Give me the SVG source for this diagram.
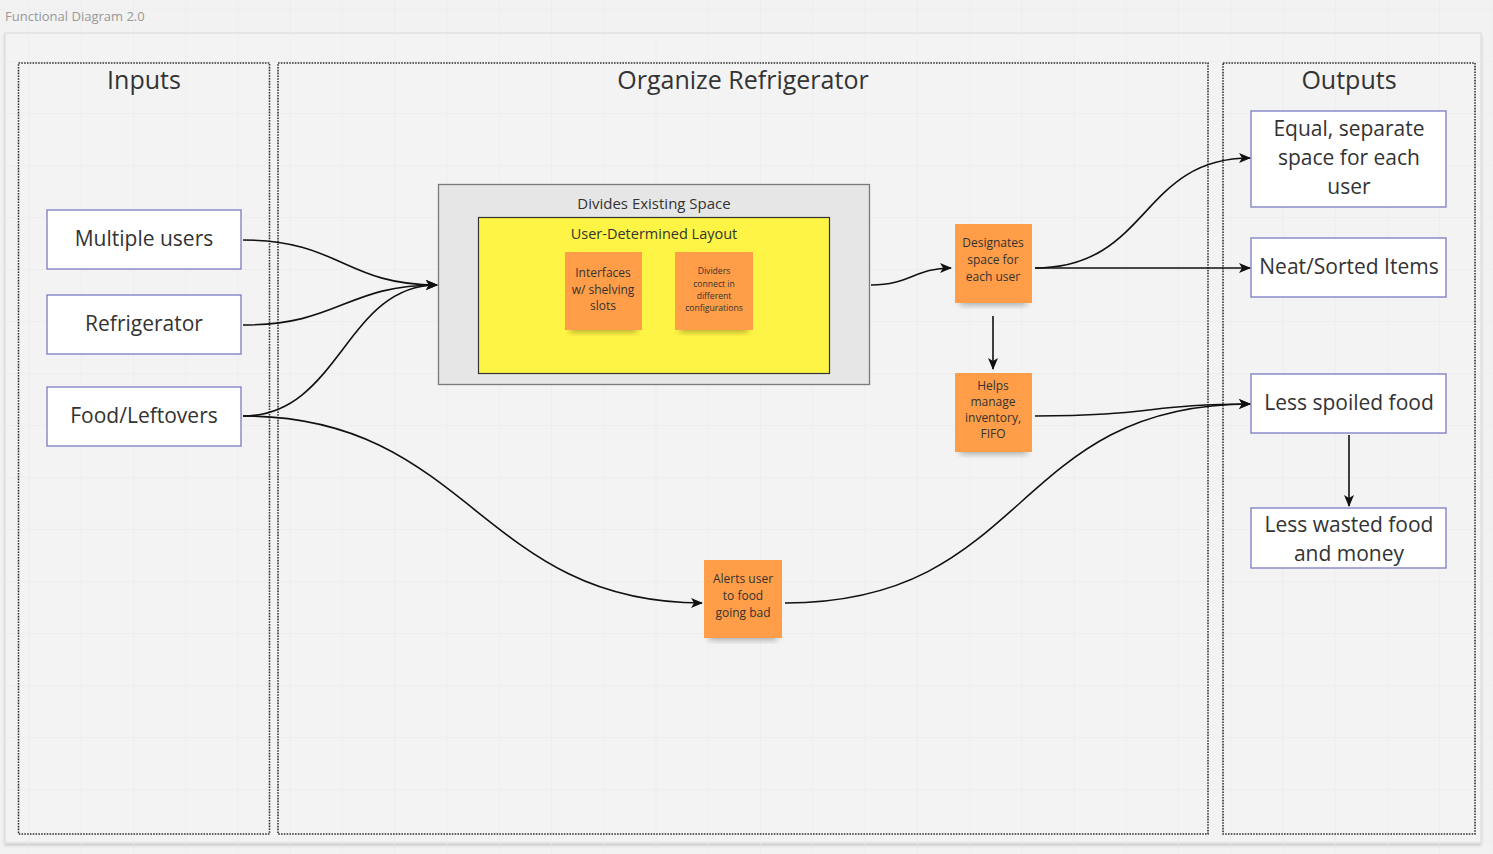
<svg xmlns="http://www.w3.org/2000/svg" width="1493" height="854" viewBox="0 0 1493 854">
<defs>
<pattern id="minor" x="28.5" y="9" width="52.25" height="52" patternUnits="userSpaceOnUse">
<path d="M0 0V52M0 0H52.25" stroke="#e9e9e9" stroke-width="1.1" fill="none"/>
</pattern>
<marker id="ah" viewBox="0 0 12 10" refX="11" refY="5" markerWidth="12" markerHeight="10" markerUnits="userSpaceOnUse" orient="auto">
<path d="M0 0L12 5L0 10L3 5Z" fill="#111"/>
</marker>
<filter id="sh" x="-20%" y="-20%" width="140%" height="160%">
<feGaussianBlur stdDeviation="3"/>
</filter>
<filter id="fsh" x="-5%" y="-5%" width="110%" height="110%">
<feDropShadow dx="0" dy="2" stdDeviation="1.5" flood-color="#000" flood-opacity="0.18"/>
</filter>
</defs>
<style>
text{font-family:"Open Sans","Noto Sans","DejaVu Sans",sans-serif;fill:#333;text-anchor:middle}
.lane{fill:none;stroke:#333;stroke-width:1.6;stroke-dasharray:1.6 1.2}
.lt{font-size:25px}
.box{fill:#fff;stroke:#7c7cc4;stroke-width:1.3}
.bt{font-size:21px}
.st{fill:#ff9d48}
.sshadow{fill:#000;opacity:0.3;filter:url(#sh)}
.s12{font-size:12px}
.s9{font-size:8.6px}
.c{fill:none;stroke:#111;stroke-width:1.6;marker-end:url(#ah)}
</style>
<rect x="0" y="0" width="1493" height="854" fill="#f2f2f2"/>
<g id="frame">
<rect x="5" y="33" width="1476" height="810" fill="#f3f3f3" stroke="#dadada" stroke-width="1" filter="url(#fsh)"/>
</g>
<rect x="0" y="0" width="1493" height="854" fill="url(#minor)"/>
<text x="5" y="21" style="font-size:13px;fill:#999;text-anchor:start">Functional Diagram 2.0</text>
<g id="lane-inputs">
<rect class="lane" x="18.5" y="63" width="251" height="771"/>
<text class="lt" x="144" y="89">Inputs</text>
</g>
<g id="lane-organize">
<rect class="lane" x="278" y="63" width="930" height="771"/>
<text class="lt" x="743" y="89">Organize Refrigerator</text>
</g>
<g id="lane-outputs">
<rect class="lane" x="1223" y="63" width="252" height="771"/>
<text class="lt" x="1349" y="89">Outputs</text>
</g>
<g id="in-users">
<rect class="box" x="47" y="210" width="194" height="59"/>
<text class="bt" x="144" y="246">Multiple users</text>
</g>
<g id="in-fridge">
<rect class="box" x="47" y="295" width="194" height="59"/>
<text class="bt" x="144" y="331">Refrigerator</text>
</g>
<g id="in-food">
<rect class="box" x="47" y="387" width="194" height="59"/>
<text class="bt" x="144" y="423">Food/Leftovers</text>
</g>
<g id="divides">
<rect x="438.5" y="184.5" width="431" height="200" fill="#e6e6e6" stroke="#7a7a7a" stroke-width="1.3"/>
<text x="654" y="209" style="font-size:15px">Divides Existing Space</text>
</g>
<g id="layout">
<rect x="478.5" y="217.5" width="351" height="156" fill="#fef445" stroke="#333" stroke-width="1.2"/>
<text x="654" y="239" style="font-size:14.5px">User-Determined Layout</text>
</g>
<g id="s-interfaces">
<rect class="sshadow" x="570" y="322" width="67" height="10"/>
<rect class="st" x="565" y="252" width="77" height="78"/>
<text class="s12" x="603" y="277">Interfaces</text>
<text class="s12" x="603" y="294">w/ shelving</text>
<text class="s12" x="603" y="310">slots</text>
</g>
<g id="s-dividers">
<rect class="sshadow" x="680" y="322" width="68" height="10"/>
<rect class="st" x="675" y="252" width="78" height="78"/>
<text class="s9" x="714" y="274">Dividers</text>
<text class="s9" x="714" y="287">connect in</text>
<text class="s9" x="714" y="299">different</text>
<text class="s9" x="714" y="311">configurations</text>
</g>
<g id="s-designates">
<rect class="sshadow" x="960" y="295" width="67" height="10"/>
<rect class="st" x="955" y="224" width="77" height="79"/>
<text class="s12" x="993" y="247">Designates</text>
<text class="s12" x="993" y="264">space for</text>
<text class="s12" x="993" y="281">each user</text>
</g>
<g id="s-helps">
<rect class="sshadow" x="960" y="444" width="67" height="10"/>
<rect class="st" x="955" y="373" width="77" height="79"/>
<text class="s12" x="993" y="390">Helps</text>
<text class="s12" x="993" y="406">manage</text>
<text class="s12" x="993" y="422">inventory,</text>
<text class="s12" x="993" y="438">FIFO</text>
</g>
<g id="s-alerts">
<rect class="sshadow" x="709" y="630" width="68" height="10"/>
<rect class="st" x="704" y="560" width="78" height="78"/>
<text class="s12" x="743" y="583">Alerts user</text>
<text class="s12" x="743" y="600">to food</text>
<text class="s12" x="743" y="617">going bad</text>
</g>
<g id="out-equal">
<rect class="box" x="1251" y="111" width="195" height="96"/>
<text class="bt" x="1349" y="136">Equal, separate</text>
<text class="bt" x="1349" y="165">space for each</text>
<text class="bt" x="1349" y="194">user</text>
</g>
<g id="out-neat">
<rect class="box" x="1251" y="238" width="195" height="59"/>
<text class="bt" x="1349" y="274">Neat/Sorted Items</text>
</g>
<g id="out-spoiled">
<rect class="box" x="1251" y="374" width="195" height="59"/>
<text class="bt" x="1349" y="410">Less spoiled food</text>
</g>
<g id="out-wasted">
<rect class="box" x="1251" y="508" width="195" height="60"/>
<text class="bt" x="1349" y="532">Less wasted food</text>
<text class="bt" x="1349" y="561">and money</text>
</g>
<g id="connectors">
<path class="c" d="M243 240C340 240 345 285 437 285"/>
<path class="c" d="M243 325C340 325 345 285 437 285"/>
<path class="c" d="M243 416C340 416 345 285 437 285"/>
<path class="c" d="M243 416C470 416 480 603 702 603"/>
<path class="c" d="M871 285C910 285 915 268 951 268"/>
<path class="c" d="M1035 268C1150 268 1140 158 1250 158"/>
<path class="c" d="M1035 268H1250"/>
<path class="c" d="M993 316V369"/>
<path class="c" d="M1035 416C1150 416 1150 404 1250 404"/>
<path class="c" d="M785 603C1030 603 1010 404 1250 404"/>
<path class="c" d="M1349 435V506"/>
</g>
</svg>
